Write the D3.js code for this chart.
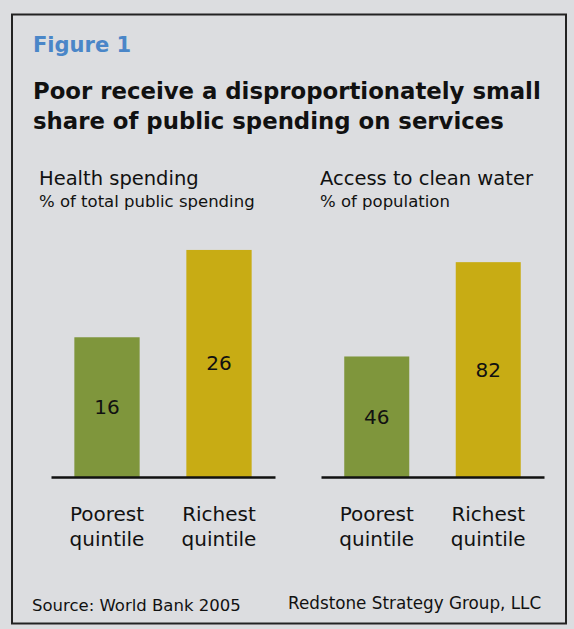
<!DOCTYPE html>
<html><head><meta charset="utf-8">
<script src="https://cdn.jsdelivr.net/npm/d3@7"></script>
<style>
html,body{margin:0;padding:0;background:#dcdde0;}
svg{display:block;}
text{font-family:"DejaVu Sans",sans-serif;}
</style></head>
<body>
<svg id="chart" width="574" height="629"></svg>
<script>
const categories = ["Poorest quintile", "Richest quintile"];
const healthValues = [16, 26];
const waterValues = [46, 82];
const panelTitles = ["Health spending", "Access to clean water"];
const panelSubtitles = ["% of total public spending", "% of population"];

const svg = d3.select("#chart");
svg.append("rect").attr("x",0).attr("y",0).attr("width",574).attr("height",629).attr("fill","#dcdde0");
svg.append("rect").attr("x",12).attr("y",14.5).attr("width",554).attr("height",609)
  .attr("fill","#dcdde0").attr("stroke","#222").attr("stroke-width",2);

svg.append("text").attr("x",33).attr("y",52).attr("fill","#4a86c8")
  .attr("font-weight","bold").attr("font-size",21).text("Figure 1");
svg.append("text").attr("x",33).attr("y",99).attr("fill","#111")
  .attr("font-weight","bold").attr("font-size",22.8).text("Poor receive a disproportionately small");
svg.append("text").attr("x",33).attr("y",129).attr("fill","#111")
  .attr("font-weight","bold").attr("font-size",22.8).text("share of public spending on services");

const colors = ["#7f963c", "#c8ac14"];
const panels = [
  {values: healthValues, max: 30, x0: 51, x1: 275, tx: 39},
  {values: waterValues, max: 100, x0: 321, x1: 544, tx: 320}
];

panels.forEach((p, i) => {
  const g = svg.append("g");
  g.append("text").attr("x",p.tx).attr("y",185).attr("font-size",19.5).attr("fill","#111").text(panelTitles[i]);
  g.append("text").attr("x",p.tx).attr("y",207).attr("font-size",16.5).attr("fill","#111").text(panelSubtitles[i]);
  const x = d3.scaleBand().domain(categories).range([p.x0, p.x1]).paddingInner(0.417).paddingOuter(0.2085);
  const y = d3.scaleLinear().domain([0, p.max]).range([477, 215]);
  g.selectAll("rect.bar").data(p.values).join("rect").attr("class","bar")
    .attr("x",(d,j)=>x(categories[j])).attr("width",x.bandwidth())
    .attr("y",d=>y(d)).attr("height",d=>y(0)-y(d)).attr("fill",(d,j)=>colors[j]);
  g.selectAll("text.val").data(p.values).join("text").attr("class","val")
    .attr("x",(d,j)=>x(categories[j])+x.bandwidth()/2)
    .attr("y",d=>(y(d)+y(0))/2).attr("dy","0.35em")
    .attr("text-anchor","middle").attr("font-size",20).attr("fill","#111").text(d=>d);
  const axis = d3.axisBottom(x).tickSize(0).tickPadding(0);
  const ag = g.append("g").attr("transform",`translate(0,${y(0)})`).call(axis);
  ag.select(".domain").attr("stroke","#111").attr("stroke-width",2.5);
  ag.selectAll(".tick text").remove();
  ag.selectAll(".tick").each(function(d){
    const t = d3.select(this).append("text").attr("text-anchor","middle").attr("fill","#111")
      .attr("font-size",20);
    d.split(" ").forEach((w,k)=>t.append("tspan").attr("x",0).attr("y",44+k*25).text(w));
  });
});

svg.append("text").attr("x",32).attr("y",611).attr("font-size",16.5).attr("fill","#111").text("Source: World Bank 2005");
svg.append("text").attr("x",288).attr("y",609).attr("font-size",16.8).attr("fill","#111").text("Redstone Strategy Group, LLC");
</script>
</body></html>
